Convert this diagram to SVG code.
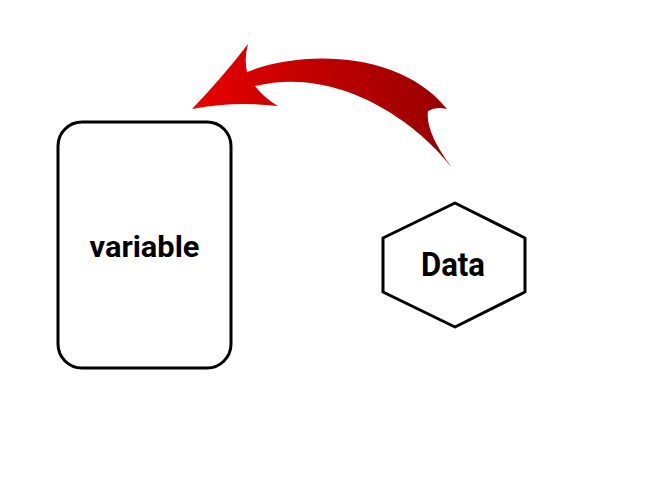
<svg xmlns="http://www.w3.org/2000/svg" width="672" height="480" viewBox="0 0 672 480">
<style>
.shape{fill:#fff;stroke:#000;stroke-width:3;stroke-linejoin:round}
.lbl{font-family:Roboto,"Liberation Sans",sans-serif;font-weight:bold;fill:#000;text-anchor:middle}
</style>
<defs>
<linearGradient id="redgrad" gradientUnits="userSpaceOnUse" x1="192" y1="0" x2="452" y2="0">
<stop offset="0" stop-color="#e80000"/>
<stop offset="1" stop-color="#960000"/>
</linearGradient>
</defs>
<rect width="672" height="480" fill="#fff"/>
<g id="connectors">
<path id="arrow" fill="url(#redgrad)" d="M192,109 Q222,78 248,44 Q244,58 247,72 C300,50 400,50 447,109 Q436,106 428,111 Q425,132 452,168 C420,125 340,65 255,86 Q264,98 278,106 Q235,101 192,109 Z"/>
</g>
<g id="node-variable">
<rect class="shape" x="58" y="122" width="173" height="246" rx="24" ry="24"/>
<text class="lbl" x="144.5" y="257" font-size="30" textLength="110" lengthAdjust="spacingAndGlyphs">variable</text>
</g>
<g id="node-data">
<polygon class="shape" points="455,203 525,238 525,292 455,327 383,292 383,238"/>
<text class="lbl" x="453" y="276" font-size="33" textLength="64" lengthAdjust="spacingAndGlyphs">Data</text>
</g>
</svg>
